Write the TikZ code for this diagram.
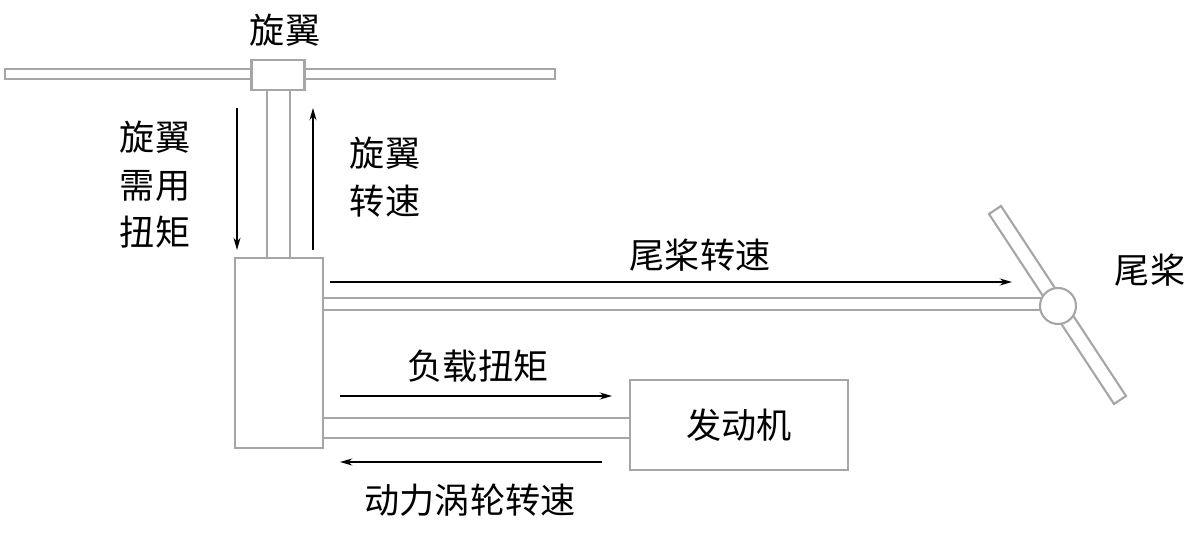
\documentclass[tikz,border=0pt]{standalone}
\usepackage{fontspec}
\newfontfamily\cjk{Noto Sans CJK SC}
\usetikzlibrary{arrows.meta}
\begin{document}
\begin{tikzpicture}[x=0.02cm,y=-0.02cm,
 part/.style={draw=gray!70,line width=1.2pt,fill=white},
 flow/.style={draw=black,line width=0.8pt,-{Stealth[length=7pt,width=4pt]}},
 lbl/.style={font=\cjk\fontsize{20}{27}\selectfont,align=center,inner sep=0pt}]
\useasboundingbox (0,0) rectangle (1200,536);
% rotor
\draw[part] (5,69) rectangle (555,79);
\draw[part] (267,90) -- (267,258) (290,90) -- (290,258);
\node[part,minimum width=1.06cm,minimum height=0.6cm,inner sep=0pt] (hub) at (278,75) {};
\node[lbl] (rotorlbl) at (285,30) {旋翼};
% gearbox
\node[part,minimum width=1.76cm,minimum height=3.8cm,inner sep=0pt] (gb) at (279,353) {};
% tail shaft & rotor
\draw[part] (323,298) -- (1042,298) (323,310) -- (1042,310);
\draw[part] (989,214) -- (1001,206) -- (1126,396) -- (1114,404) -- cycle;
\node[part,circle,minimum size=0.72cm,inner sep=0pt] (hubt) at (1058,306) {};
\node[lbl] (taillbl) at (1150,270) {尾桨};
% engine
\node[part,minimum width=4.36cm,minimum height=1.8cm,inner sep=0pt,label={[lbl]center:发动机}] (eng) at (739,425) {};
\draw[part] (323,418) -- (630,418) (323,438) -- (630,438);
% arrows
\coordinate (a1) at (237,108); \coordinate (a2) at (237,250);
\draw[flow] (a1) -- (a2);
\coordinate (b1) at (313,250); \coordinate (b2) at (313,108);
\draw[flow] (b1) -- (b2);
\node[lbl] (t1) at (155,185) {旋翼\\需用\\扭矩};
\node[lbl] (t2) at (385,177) {旋翼\\转速};
\coordinate (c1) at (330,282); \coordinate (c2) at (1012,282);
\draw[flow] (c1) -- (c2);
\node[lbl] (t3) at (700,255) {尾桨转速};
\coordinate (d1) at (340,396); \coordinate (d2) at (612,396);
\draw[flow] (d1) -- (d2);
\node[lbl] (t4) at (478,366) {负载扭矩};
\coordinate (e1) at (602,462); \coordinate (e2) at (340,462);
\draw[flow] (e1) -- (e2);
\node[lbl] (t5) at (470,500) {动力涡轮转速};
\end{tikzpicture}
\end{document}
